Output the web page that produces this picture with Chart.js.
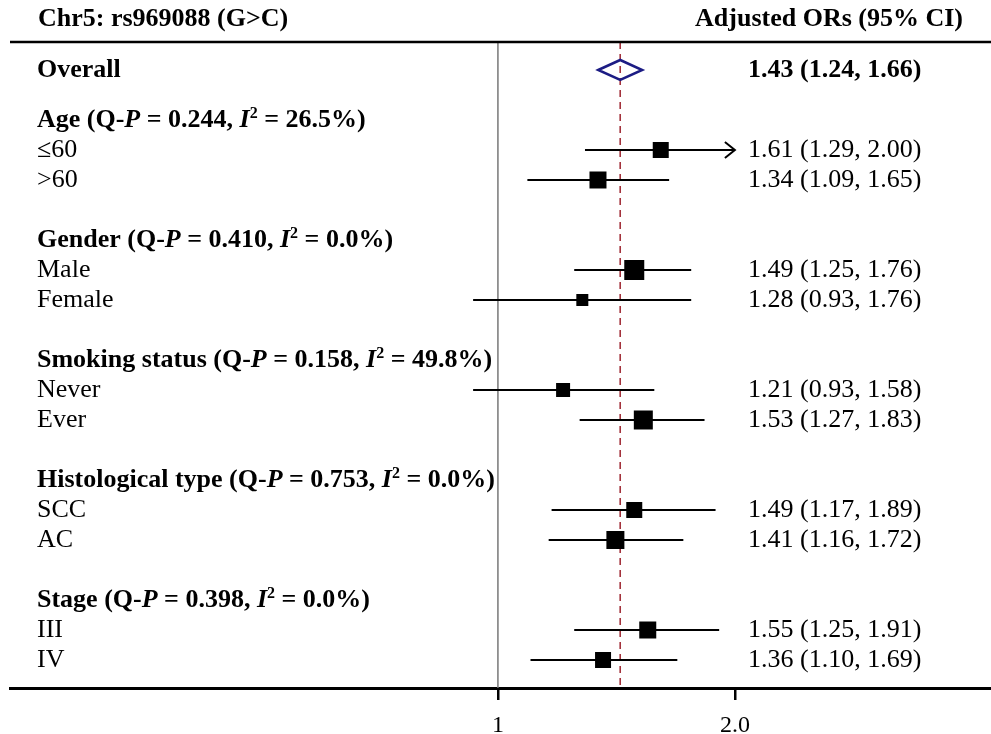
<!DOCTYPE html>
<html>
<head>
<meta charset="utf-8">
<script src="https://cdn.jsdelivr.net/npm/chart.js@4.4.1/dist/chart.umd.min.js"></script>
<style>
  body { margin: 0; background: #fff; }
  #wrap { width: 991px; height: 734px; position: relative; }
</style>
</head>
<body>
<div id="wrap"><canvas id="forest"></canvas></div>
<script>
// datos del forest plot
const snpTitle = 'Chr5: rs969088 (G>C)';
const colTitle = 'Adjusted ORs (95% CI)';

const overallOR = 1.43;
const overallLow = 1.24;
const overallHigh = 1.66;

const groupNames = ['Age', 'Gender', 'Smoking status', 'Histological type', 'Stage'];
const groupQP = ['0.244', '0.410', '0.158', '0.753', '0.398'];
const groupI2 = ['26.5', '0.0', '49.8', '0.0', '0.0'];
const subgroups = [['≤60', '>60'], ['Male', 'Female'], ['Never', 'Ever'], ['SCC', 'AC'], ['III', 'IV']];

const orValues = [1.61, 1.34, 1.49, 1.28, 1.21, 1.53, 1.49, 1.41, 1.55, 1.36];
const lowerCI = [1.29, 1.09, 1.25, 0.93, 0.93, 1.27, 1.17, 1.16, 1.25, 1.10];
const upperCI = [2.00, 1.65, 1.76, 1.76, 1.58, 1.83, 1.89, 1.72, 1.91, 1.69];

const xTicks = [1, 2];
const xTickLabels = ['1', '2.0'];
const ciLimit = 2.0;

// estilos
const boxSide = [16, 17, 20, 12, 14, 19, 16, 18, 17, 16];
const FONT = '"Liberation Serif", "Times New Roman", serif';
const FS = 26;

// filas (posicion vertical en unidades de fila)
const headerRows = [];
const itemRows = [];
const itemLabels = [];
let r = 1 + 2 / 3;
groupNames.forEach((g, i) => {
    headerRows.push(r);
    r++;
    subgroups[i].forEach(lab => {
        itemRows.push(r);
        itemLabels.push(lab);
        r++;
    });
    r++;
});

const fmt = v => v.toFixed(2);

// dibuja texto con segmentos (negrita / cursiva / superindice)
const drawRich = (ctx, segs, x, y) => {
    ctx.textAlign = 'left';
    ctx.textBaseline = 'middle';
    segs.forEach(s => {
        const size = s.sup ? Math.round(FS * 0.62) : FS;
        ctx.font = `${s.i ? 'italic ' : ''}${s.b ? 'bold ' : ''}${size}px ${FONT}`;
        ctx.fillText(s.t, x, s.sup ? y - FS * 0.22 : y);
        x += ctx.measureText(s.t).width;
    });
};

const forestPlugin = {
    id: 'forest',
    beforeDatasetsDraw(chart) {
        const { ctx, chartArea: a, scales: { x } } = chart;
        ctx.save();
        // linea en OR = 1
        ctx.strokeStyle = '#777';
        ctx.lineWidth = 1.5;
        ctx.beginPath();
        ctx.moveTo(x.getPixelForValue(1), a.top);
        ctx.lineTo(x.getPixelForValue(1), a.bottom);
        ctx.stroke();
        // linea punteada en OR global
        const xo = x.getPixelForValue(overallOR);
        ctx.strokeStyle = '#a3323c';
        ctx.lineWidth = 1.6;
        ctx.setLineDash([7, 5]);
        ctx.beginPath();
        ctx.moveTo(xo, a.top);
        ctx.lineTo(xo, a.bottom);
        ctx.stroke();
        ctx.restore();
    },
    afterDatasetsDraw(chart) {
        const { ctx, chartArea: a, scales: { x, y } } = chart;
        ctx.save();
        // linea superior
        ctx.strokeStyle = '#000';
        ctx.lineWidth = 2.5;
        ctx.beginPath();
        ctx.moveTo(a.left, a.top);
        ctx.lineTo(a.right, a.top);
        ctx.stroke();

        // rombo del OR global
        const xo = x.getPixelForValue(overallOR);
        const yo = y.getPixelForValue(0);
        ctx.strokeStyle = '#1c1c84';
        ctx.lineWidth = 2.5;
        ctx.beginPath();
        ctx.moveTo(xo - 22, yo);
        ctx.lineTo(xo, yo - 10);
        ctx.lineTo(xo + 22, yo);
        ctx.lineTo(xo, yo + 10);
        ctx.closePath();
        ctx.stroke();

        // flechas para IC truncados
        ctx.strokeStyle = '#000';
        ctx.lineWidth = 2;
        upperCI.forEach((u, i) => {
            if (u >= ciLimit) {
                const px = x.getPixelForValue(ciLimit);
                const py = y.getPixelForValue(itemRows[i]);
                ctx.beginPath();
                ctx.moveTo(px - 10, py - 8);
                ctx.lineTo(px, py);
                ctx.lineTo(px - 10, py + 8);
                ctx.stroke();
            }
        });

        // textos
        ctx.fillStyle = '#000';
        const lx = 37;
        const rx = 748;
        drawRich(ctx, [{ t: snpTitle, b: true }], 38, 19);
        ctx.font = `bold ${FS}px ${FONT}`;
        ctx.textAlign = 'right';
        ctx.fillText(colTitle, 963, 19);

        drawRich(ctx, [{ t: 'Overall', b: true }], lx, yo);
        drawRich(ctx, [{ t: `${fmt(overallOR)} (${fmt(overallLow)}, ${fmt(overallHigh)})`, b: true }], rx, yo);

        groupNames.forEach((g, i) => {
            drawRich(ctx, [
                { t: `${g} (Q-`, b: true },
                { t: 'P', b: true, i: true },
                { t: ` = ${groupQP[i]}, `, b: true },
                { t: 'I', b: true, i: true },
                { t: '2', b: true, sup: true },
                { t: ` = ${groupI2[i]}%)`, b: true }
            ], lx, y.getPixelForValue(headerRows[i]));
        });
        itemLabels.forEach((lab, i) => {
            const py = y.getPixelForValue(itemRows[i]);
            drawRich(ctx, [{ t: lab }], lx, py);
            drawRich(ctx, [{ t: `${fmt(orValues[i])} (${fmt(lowerCI[i])}, ${fmt(upperCI[i])})` }], rx, py);
        });
        ctx.restore();
    }
};

const ciSets = orValues.map((v, i) => ({
    type: 'line',
    data: [{ x: lowerCI[i], y: itemRows[i] }, { x: Math.min(upperCI[i], ciLimit), y: itemRows[i] }],
    borderColor: '#000',
    borderWidth: 2,
    pointRadius: 0,
    clip: false
}));

new Chart(document.getElementById('forest'), {
    type: 'scatter',
    data: {
        datasets: [
            ...ciSets,
            {
                type: 'scatter',
                data: orValues.map((v, i) => ({ x: v, y: itemRows[i] })),
                pointStyle: 'rect',
                pointRadius: boxSide.map(s => s / Math.SQRT2),
                backgroundColor: '#000',
                borderColor: '#000',
                borderWidth: 0
            }
        ]
    },
    options: {
        responsive: true,
        maintainAspectRatio: false,
        animation: false,
        events: [],
        layout: { autoPadding: false, padding: { top: 42, left: 10, right: 0, bottom: 0 } },
        plugins: { legend: { display: false }, tooltip: { enabled: false } },
        scales: {
            x: {
                type: 'logarithmic',
                min: 0.24,
                max: 4.23,
                afterBuildTicks: axis => { axis.ticks = xTicks.map(v => ({ value: v })); },
                afterFit: axis => {
                    axis.height = 46;
                    axis.paddingLeft = 0;
                    axis.paddingRight = 0;
                },
                ticks: {
                    autoSkip: false,
                    maxRotation: 0,
                    padding: 11,
                    color: '#000',
                    font: { family: FONT, size: 24 },
                    callback: (v) => xTickLabels[xTicks.indexOf(v)]
                },
                grid: { drawOnChartArea: false, drawTicks: true, tickLength: 12, color: '#000', lineWidth: 2.5 },
                border: { display: true, color: '#000', width: 3 }
            },
            y: {
                type: 'linear',
                display: false,
                reverse: true,
                min: -0.933,
                max: 20.6
            }
        }
    },
    plugins: [forestPlugin]
});
</script>
</body>
</html>
